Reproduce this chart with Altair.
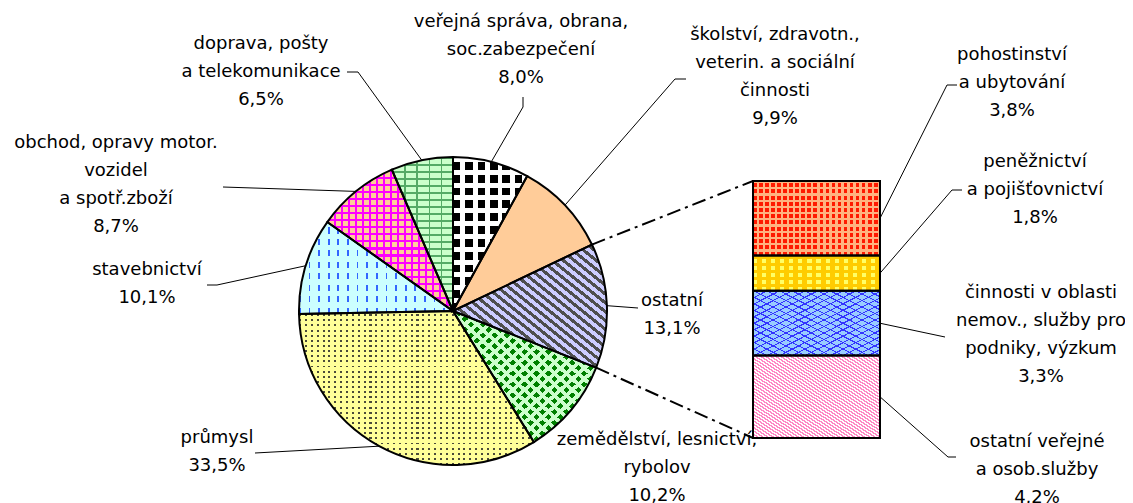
import math
import altair as alt
import pandas as pd

# ---------------- data ----------------
pie_labels = [
    ["veřejná správa, obrana,", "soc.zabezpečení"],
    ["školství, zdravotn.,", "veterin. a sociální", "činnosti"],
    ["ostatní"],
    ["zemědělství, lesnictví,", "rybolov"],
    ["průmysl"],
    ["stavebnictví"],
    ["obchod, opravy motor.", "vozidel", "a spotř.zboží"],
    ["doprava, pošty", "a telekomunikace"],
]
pie_values = [8.0, 9.9, 13.1, 10.2, 33.5, 10.1, 8.7, 6.5]

bar_labels = [
    ["pohostinství", "a ubytování"],
    ["peněžnictví", "a pojišťovnictví"],
    ["činnosti v oblasti", "nemov., služby pro", "podniky, výzkum"],
    ["ostatní veřejné", "a osob.služby"],
]
bar_values = [3.8, 1.8, 3.3, 4.2]

# ---------------- layout (page pixels) ----------------
OFF = 8
W, H = 1117, 495
CX, CY, R = 453, 311, 154
BX0, BX1, BTOP, BBOT = 753, 880, 181, 438
LINE_H = 28
FONT = "DejaVu Sans"
FS = 18
EXPLODED = 2  # index of the pie slice expanded into the bar

pie_label_pos = [(521, 22), (775, 35), (672, 301), (657, 440),
                 (217, 438), (147, 270), (116, 143), (261, 44)]
pie_leader_elbows = [[(523, 107), (523, 97)], [(675, 79), (686, 79)], [(638, 308)], [],
                     [(255, 453)], [(217, 285), (207, 285)], [(223, 187)], [(358, 72), (347, 72)]]
bar_label_pos = [(1012, 55), (1035, 162), (1041, 293), (1037, 442)]
bar_leader_elbows = [[(947, 85), (957, 85)], [(952, 190), (962, 190)], [(945, 337)],
                     [(948, 457), (956, 457)]]


def fmt(v):
    return f"{v:.1f}".replace(".", ",") + "%"


def stripes(c_on, c_off, n, duty, direction):
    dirs = {"v": (0, 0, 1, 0), "h": (0, 0, 0, 1), "d1": (0, 1, 1, 0), "d2": (0, 0, 1, 1)}
    x1, y1, x2, y2 = dirs[direction]
    stops = []
    for i in range(n):
        a, b, c = i / n, (i + duty) / n, (i + 1) / n
        stops += [{"offset": round(a, 5), "color": c_on}, {"offset": round(b, 5), "color": c_on},
                  {"offset": round(b, 5), "color": c_off}, {"offset": round(min(c, 1), 5), "color": c_off}]
    return {"gradient": "linear", "x1": x1, "y1": y1, "x2": x2, "y2": y2, "stops": stops}


CLEAR = "rgba(255,255,255,0)"
pie_styles = [
    (stripes("#000000", "#FFFFFF", 6, 0.6, "v"), stripes("#FFFFFF", CLEAR, 12, 0.38, "h")),
    ("#FFCC99", None),
    (stripes("#4D4D4D", "#CCCCFF", 28, 0.45, "d1"), None),
    (stripes("#008000", "#CCFFCC", 24, 0.55, "d1"), stripes("#CCFFCC", CLEAR, 24, 0.45, "d2")),
    (stripes("#4A4A3A", "#FFFF99", 40, 0.35, "v"), stripes("#FFFF99", CLEAR, 30, 0.62, "h")),
    (stripes("#3366FF", "#CCFFFF", 16, 0.18, "v"), stripes("#CCFFFF", CLEAR, 8, 0.45, "h")),
    (stripes("#FF00FF", "#FFCC99", 18, 0.3, "v"), stripes("#FF00FF", CLEAR, 20, 0.3, "h")),
    (stripes("#55AA66", "#CCFFCC", 22, 0.28, "h"), stripes("#55AA66", CLEAR, 5, 0.12, "v")),
]
bar_styles = [
    (stripes("#FF1A00", "#FFB380", 21, 0.6, "v"), stripes("#FFB380", CLEAR, 12, 0.35, "h")),
    (stripes("#FFFF66", "#FFCC00", 14, 0.45, "v"), stripes("#FFCC00", CLEAR, 5, 0.5, "h")),
    (stripes("#3333FF", "#99CCFF", 20, 0.18, "d1"), stripes("#3333FF", CLEAR, 20, 0.18, "d2")),
    (stripes("#FF88C4", "#FFFFFF", 50, 0.5, "d1"), None),
]

# ---------------- derived tables ----------------
ptotal = sum(pie_values)
rows, cum = [], 0.0
for i, v in enumerate(pie_values):
    rows.append(dict(i=i, start=cum, end=cum + v))
    cum += v
pie_df = pd.DataFrame(rows)


def edge(pct):
    a = pct / ptotal * 2 * math.pi
    return CX + R * math.sin(a), CY - R * math.cos(a)


btotal = sum(bar_values)
brows, cum = [], 0.0
for i, v in enumerate(bar_values):
    brows.append(dict(i=i, lo=btotal - cum - v, hi=btotal - cum))
    cum += v
bar_df = pd.DataFrame(brows)


def bar_y(val):
    return BBOT - val / btotal * (BBOT - BTOP)


# texts
trows = []
for labs, v, (x, y) in zip(pie_labels, pie_values, pie_label_pos):
    for k, t in enumerate(labs + [fmt(v)]):
        trows.append(dict(x=x - OFF, y=y + k * LINE_H - OFF, text=t))
for labs, v, (x, y) in zip(bar_labels, bar_values, bar_label_pos):
    for k, t in enumerate(labs + [fmt(v)]):
        trows.append(dict(x=x - OFF, y=y + k * LINE_H - OFF, text=t))
text_df = pd.DataFrame(trows)

# leader lines
lrows = []
for i, elbows in enumerate(pie_leader_elbows):
    if not elbows:
        continue
    sx, sy = edge((pie_df.start[i] + pie_df.end[i]) / 2)
    for k, (x, y) in enumerate([(sx, sy)] + elbows):
        lrows.append(dict(id=f"p{i}", k=k, x=x - OFF, y=y - OFF))
for i, elbows in enumerate(bar_leader_elbows):
    sy = bar_y((bar_df.lo[i] + bar_df.hi[i]) / 2)
    for k, (x, y) in enumerate([(BX1, sy)] + elbows):
        lrows.append(dict(id=f"b{i}", k=k, x=x - OFF, y=y - OFF))
leader_df = pd.DataFrame(lrows)

# dash-dot connectors between exploded slice and bar
e0 = edge(pie_df.start[EXPLODED])
e1 = edge(pie_df.end[EXPLODED])
conn_df = pd.DataFrame([
    dict(id="a", k=0, x=e0[0] - OFF, y=e0[1] - OFF), dict(id="a", k=1, x=BX0 - OFF, y=bar_y(btotal) - OFF),
    dict(id="b", k=0, x=e1[0] - OFF, y=e1[1] - OFF), dict(id="b", k=1, x=BX0 - OFF, y=bar_y(0) - OFF),
])

# ---------------- chart ----------------
XS = alt.Scale(domain=[0, W], range=[0, W])
YS = alt.Scale(domain=[0, H], range=[0, H])
TS = alt.Scale(domain=[0, ptotal], range=[0, 2 * math.pi])
BS = alt.Scale(domain=[0, btotal], range=[BBOT - OFF, BTOP - OFF])

px_enc = dict(x=alt.X("x:Q", scale=XS, axis=None), y=alt.Y("y:Q", scale=YS, axis=None))

layers = []
layers.append(alt.Chart(conn_df).mark_line(color="black", strokeWidth=2, strokeDash=[14, 5, 3, 5])
              .encode(detail="id:N", order="k:Q", **px_enc))

arc_enc = dict(theta=alt.Theta("start:Q", scale=TS), theta2="end:Q",
               x=alt.value(CX - OFF), y=alt.value(CY - OFF))
for i, (base, over) in enumerate(pie_styles):
    for f in (base, over):
        if f is None:
            continue
        layers.append(alt.Chart(pie_df).transform_filter(alt.datum.i == i)
                      .mark_arc(radius=R, fill=f, strokeWidth=0).encode(**arc_enc))
layers.append(alt.Chart(pie_df).mark_arc(radius=R, fillOpacity=0, stroke="black", strokeWidth=2)
              .encode(**arc_enc))

rect_enc = dict(x=alt.value(BX0 - OFF), x2=alt.value(BX1 - OFF),
                y=alt.Y("lo:Q", scale=BS, axis=None), y2="hi:Q")
for i, (base, over) in enumerate(bar_styles):
    for f in (base, over):
        if f is None:
            continue
        layers.append(alt.Chart(bar_df).transform_filter(alt.datum.i == i)
                      .mark_rect(fill=f, strokeWidth=0).encode(**rect_enc))
layers.append(alt.Chart(bar_df).mark_rect(fillOpacity=0, stroke="black", strokeWidth=2)
              .encode(**rect_enc))

layers.append(alt.Chart(leader_df).mark_line(color="black", strokeWidth=1)
              .encode(detail="id:N", order="k:Q", **px_enc))
layers.append(alt.Chart(text_df).mark_text(font=FONT, fontSize=FS, color="black",
                                           align="center", baseline="middle")
              .encode(text="text:N", **px_enc))

chart = (alt.layer(*layers)
         .resolve_scale(x="independent", y="independent")
         .properties(width=W, height=H, padding=0, autosize=alt.AutoSizeParams(type="none"))
         .configure_view(stroke=None))

chart.save("out.html", embed_options={"renderer": "svg", "actions": False})
